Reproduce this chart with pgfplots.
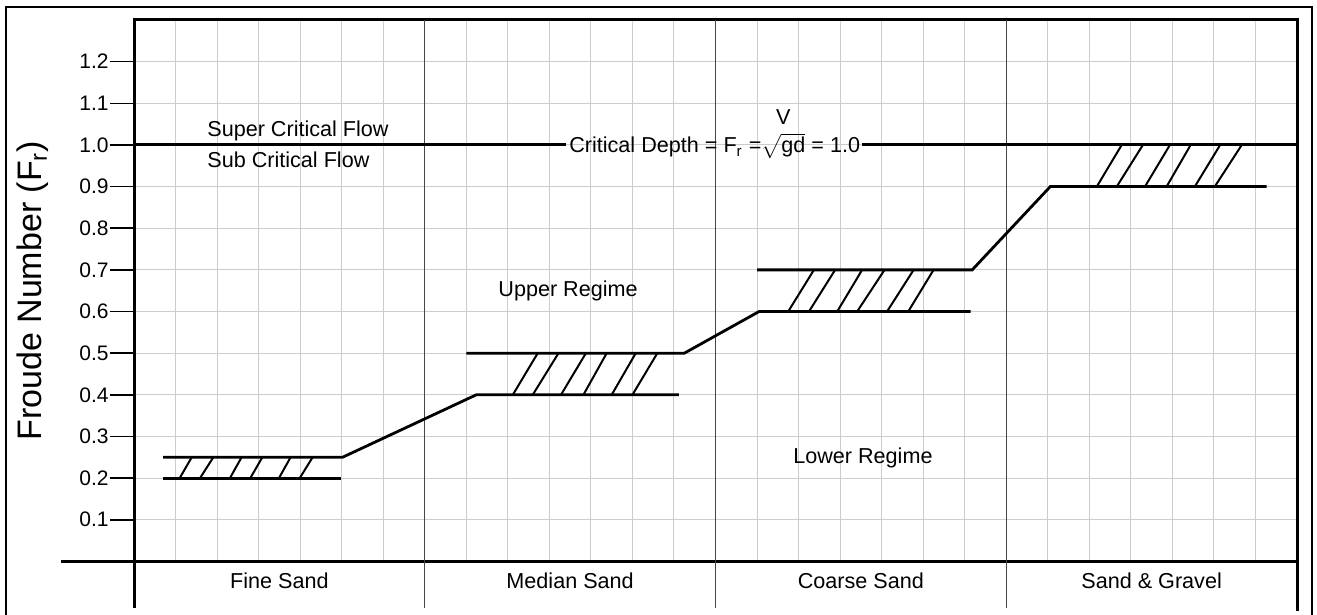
\documentclass[border=0pt]{standalone}
\usepackage{fontspec}
\setmainfont{Liberation Sans}
\usepackage{pgfplots}
\pgfplotsset{compat=1.18}
\definecolor{gridgray}{RGB}{205,205,205}
\definecolor{sepgray}{RGB}{70,70,70}
\begin{document}
\begin{tikzpicture}[font=\fontsize{10.8}{13}\selectfont]
\begin{axis}[name=ax, scale only axis, width=581.5pt, height=270.7pt,
  xmin=0, xmax=28, ymin=0, ymax=1.3,
  xtick={0,1,...,28}, xticklabels={},
  ytick={0.1,0.2,0.3,0.4,0.5,0.6,0.7,0.8,0.9,1.0,1.1,1.2},
  yticklabels={0.1,0.2,0.3,0.4,0.5,0.6,0.7,0.8,0.9,1.0,1.1,1.2},
  grid=major, major grid style={gridgray, line width=0.5pt},
  tick align=outside, major tick length=12pt,
  xtick style={draw=none}, ytick style={black, line width=0.75pt},
  ytick pos=left, xtick pos=bottom,
  axis line style={line width=1.5pt},
  clip=false, unbounded coords=jump,
  tick label style={font=\fontsize{10.5}{12.6}\selectfont},
  yticklabel style={inner sep=0.5pt},
]
% category separators
\draw[sepgray, line width=0.6pt] (axis cs:7,1.3) -- (axis cs:7,-0.112);
\draw[sepgray, line width=0.6pt] (axis cs:14,1.3) -- (axis cs:14,-0.112);
\draw[sepgray, line width=0.6pt] (axis cs:21,1.3) -- (axis cs:21,-0.112);
\draw[line width=1.5pt] (axis cs:0,0) -- (axis cs:0,-0.112);
\draw[line width=1.5pt] (axis cs:28,0) -- (axis cs:28,-0.118);
\draw[line width=1.5pt] (axis cs:-1.757,0) -- (axis cs:0,0);

% critical line
\addplot[black, line width=1.5pt] coordinates {(0,1) (10.41,1) (14,nan) (17.52,1) (28,1)};
% regime boundary lines
\addplot[black, line width=1.4pt] coordinates {(0.70,0.2) (4.98,0.2)};
\addplot[black, line width=1.4pt] coordinates {(0.70,0.25) (5.02,0.25) (8.24,0.40) (13.12,0.40)};
\addplot[black, line width=1.4pt] coordinates {(8.0,0.5) (13.25,0.5) (15.05,0.6) (20.14,0.6)};
\addplot[black, line width=1.4pt] coordinates {(15.0,0.7) (20.18,0.7) (22.06,0.9) (27.27,0.9)};
% hatching
\addplot[black, line width=1pt] coordinates {
 (1.10,0.2) (1.39,0.25) (1.5,nan)
 (1.59,0.2) (1.91,0.25) (2,nan)
 (2.31,0.2) (2.59,0.25) (2.7,nan)
 (2.80,0.2) (3.09,0.25) (3.2,nan)
 (3.49,0.2) (3.77,0.25) (3.9,nan)
 (3.99,0.2) (4.30,0.25)};
\addplot[black, line width=1pt] coordinates {
 (9.12,0.4) (9.72,0.5) (9.8,nan)
 (9.60,0.4) (10.22,0.5) (10.3,nan)
 (10.28,0.4) (10.88,0.5) (10.9,nan)
 (10.82,0.4) (11.38,0.5) (11.4,nan)
 (11.50,0.4) (12.08,0.5) (12.1,nan)
 (12.00,0.4) (12.60,0.5)};
\addplot[black, line width=1pt] coordinates {
 (15.75,0.6) (16.37,0.7) (16.4,nan)
 (16.25,0.6) (16.88,0.7) (16.9,nan)
 (16.93,0.6) (17.53,0.7) (17.6,nan)
 (17.41,0.6) (18.07,0.7) (18.1,nan)
 (18.13,0.6) (18.77,0.7) (18.8,nan)
 (18.64,0.6) (19.25,0.7)};
\addplot[black, line width=1pt] coordinates {
 (23.18,0.9) (23.78,1.0) (23.8,nan)
 (23.66,0.9) (24.29,1.0) (24.3,nan)
 (24.34,0.9) (24.94,1.0) (25.0,nan)
 (24.86,0.9) (25.44,1.0) (25.5,nan)
 (25.54,0.9) (26.15,1.0) (26.2,nan)
 (26.02,0.9) (26.67,1.0)};

% texts
\node[anchor=base west, inner sep=0pt] at (axis cs:1.757,1.0214) {Super Critical Flow};
\node[anchor=base west, inner sep=0pt] at (axis cs:1.757,0.9453) {Sub Critical Flow};
\node[anchor=base, inner sep=0pt] at (axis cs:10.45,0.6355) {Upper Regime};
\node[anchor=base, inner sep=0pt] at (axis cs:17.55,0.2355) {Lower Regime};
\node[anchor=base, inner sep=0pt] at (axis cs:13.98,0.981) {Critical Depth = F\textsubscript{r} =\begin{tabular}[b]{@{}c@{}}V\\[0.5pt]$\sqrt{\mbox{gd}}$\end{tabular} = 1.0};
\node[anchor=base, inner sep=0pt] at (axis cs:3.5,-0.0648) {Fine Sand};
\node[anchor=base, inner sep=0pt] at (axis cs:10.5,-0.0648) {Median Sand};
\node[anchor=base, inner sep=0pt] at (axis cs:17.5,-0.0648) {Coarse Sand};
\node[anchor=base, inner sep=0pt] at (axis cs:24.5,-0.0648) {Sand \& Gravel};
\end{axis}
\node[rotate=90, anchor=base, inner sep=0pt, font=\fontsize{17}{20}\selectfont] at ([xshift=-46.2pt]ax.west) {Froude Number (F\textsubscript{r})};
\draw[line width=1pt] ([shift={(-64pt,277.2pt)}]ax.south west) rectangle ([shift={(589pt,-28pt)}]ax.south west);
\pgfresetboundingbox
\path ([shift={(-67pt,280.7pt)}]ax.south west) rectangle ([shift={(591.5pt,-26.8pt)}]ax.south west);
\end{tikzpicture}
\end{document}
